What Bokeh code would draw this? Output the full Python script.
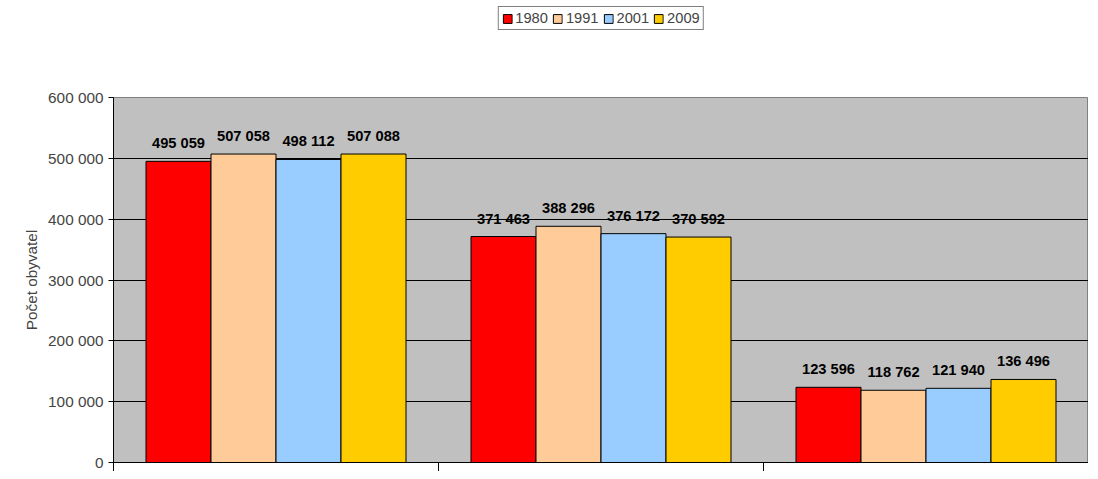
from bokeh.plotting import figure
from bokeh.layouts import column
from bokeh.models import ColumnDataSource, Legend, LegendItem, FixedTicker, CustomJSTickFormatter
from bokeh.core.properties import value
from bokeh.embed import file_html
from bokeh.resources import INLINE

years = ["1980", "1991", "2001", "2009"]
colors = ["#FF0000", "#FFCC99", "#99CCFF", "#FFCC00"]
groups = [0, 1, 2]
values = {
    "1980": [495059, 371463, 123596],
    "1991": [507058, 388296, 118762],
    "2001": [498112, 376172, 121940],
    "2009": [507088, 370592, 136496],
}

p = figure(width=1088, height=439, output_backend="svg", toolbar_location=None,
           x_range=(0, 3), y_range=(0, 600000),
           min_border_left=113, min_border_right=0, min_border_top=65, min_border_bottom=0)
p.background_fill_color = "#C0C0C0"
p.border_fill_color = "white"
p.outline_line_color = "#808080"
p.xgrid.visible = False
p.ygrid.grid_line_color = "black"
p.ygrid.grid_line_width = 1

# legend strip above the plot
lg = figure(width=1088, height=32, output_backend="svg", toolbar_location=None,
            x_range=(0, 1), y_range=(0, 1), min_border=0)
lg.axis.visible = False
lg.grid.visible = False
lg.outline_line_color = None

bw = 0.2
items = []
for k, yr in enumerate(years):
    xs = [g + 0.5 + (k - 1.5) * bw for g in groups]
    src = ColumnDataSource(dict(x=xs, top=values[yr],
                                lab=[f"{v:,}".replace(",", " ") for v in values[yr]]))
    p.vbar(x="x", top="top", width=bw, source=src, fill_color=colors[k],
           line_color="black", line_width=1)
    p.text(x="x", y="top", text="lab", source=src, text_align="center",
           text_baseline="bottom", y_offset=-10, text_font=value("Liberation Sans"),
           text_font_style="bold", text_font_size="11pt", text_color="black")
    r = lg.vbar(x=[5], top=[5], bottom=[4], width=0.1, fill_color=colors[k], line_color="black")
    items.append(LegendItem(label=yr, renderers=[r]))

legend = Legend(items=items, orientation="horizontal", location="top_center",
                label_text_font="Liberation Sans", label_text_font_size="11pt",
                glyph_width=11, glyph_height=11, spacing=4, padding=3, margin=6,
                border_line_color="black", label_standoff=3,
                label_height=12, background_fill_color="white")
lg.add_layout(legend)

p.xaxis.ticker = FixedTicker(ticks=[0, 1, 2, 3])
p.xaxis.major_label_text_font_size = "0pt"
p.xaxis.major_label_standoff = 0
p.xaxis.major_tick_out = 9
p.xaxis.major_tick_in = 0
p.xaxis.minor_tick_line_color = None
p.xaxis.axis_line_color = "black"

p.yaxis.ticker = FixedTicker(ticks=[0, 100000, 200000, 300000, 400000, 500000, 600000])
p.yaxis.formatter = CustomJSTickFormatter(code="""
return tick == 0 ? '0' : (tick/1000).toFixed(0) + ' 000';
""")
p.yaxis.minor_tick_line_color = None
p.yaxis.major_tick_out = 5
p.yaxis.major_tick_in = 0
p.yaxis.major_label_text_font = "Liberation Sans"
p.yaxis.major_label_text_font_size = "11.5pt"
p.yaxis.axis_label = "Počet obyvatel"
p.yaxis.axis_label_text_font = "Liberation Sans"
p.yaxis.axis_label_text_font_size = "11.5pt"
p.yaxis.axis_label_text_font_style = "normal"
p.yaxis.axis_line_color = "black"

open("out.html", "w").write(file_html(column(lg, p), INLINE))
